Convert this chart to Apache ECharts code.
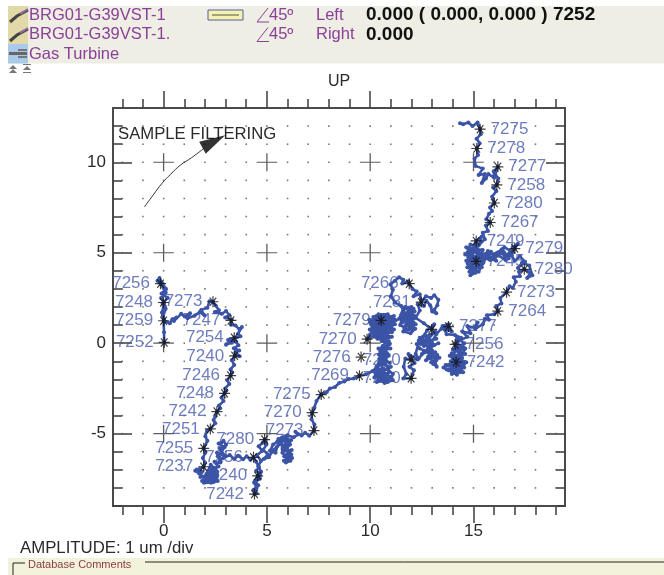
<!DOCTYPE html>
<html>
<head>
<meta charset="utf-8">
<title>Orbit</title>
<style>
  html, body { margin: 0; padding: 0; background: #fff; }
  #chart { width: 664px; height: 575px; }
</style>
<script src="https://cdn.jsdelivr.net/npm/echarts@6/dist/echarts.min.js"></script>
</head>
<body>
<div id="chart"></div>
<script>
const FONT = '"Liberation Sans", Arial, sans-serif'

// orbit trace (um)
const traceStem = [[0.03,0.04],[0.02,0.6],[0,1.24],[-0.08,1.7],[0.03,2.25],[-0.12,2.5],[0.1,2.8],[-0.15,3.29],[-0.3,3.45],[-0.2,3.6],[-0.05,3.3],[0.12,3],[-0.1,2.75],[0.2,2.5],[-0.05,2.2],[0.1,1.9],[-0.02,1.5],[0.08,1.2]]
const traceShoulder = [[0.3,1.1],[0.42,1.32],[0.62,1.42],[0.5,1.22],[0.85,1.62],[1.02,1.48],[1.28,1.66],[1.16,1.38],[1.5,1.52],[1.75,1.72],[1.98,1.54],[1.82,1.84],[2.12,1.96],[2.22,2.32],[2.39,2.29],[2.52,2.08],[2.68,1.82],[2.48,1.72],[2.82,1.62],[3.02,1.78],[3.18,1.56],[2.98,1.42],[3.3,1.3],[3.26,1.02],[3.48,0.98],[3.66,0.78],[3.79,0.89],[3.6,0.52],[3.72,0.38],[3.5,0.3],[3.42,0.3],[3.12,0.18],[3.3,0.02],[3.02,-0.08],[3.28,0.2],[3.52,0.06],[3.62,-0.12],[3.4,-0.28],[3.66,-0.4],[3.48,-0.5],[3.68,-0.72],[3.44,-0.7],[3.3,-0.95],[3.42,-1.2],[3.24,-1.45],[3.32,-1.62],[3.24,-1.79]]
const traceDescent = [[3.08,-2.05],[3.18,-2.25],[2.98,-2.5],[3.04,-2.62],[2.95,-2.77],[2.8,-3],[2.9,-3.2],[2.68,-3.45],[2.74,-3.6],[2.58,-3.78],[2.5,-4.05],[2.42,-4.25],[2.5,-4.42],[2.26,-4.74],[2.1,-4.85],[2.02,-5.15],[2.12,-5.4],[1.94,-5.81],[2.02,-6.05],[1.9,-6.35],[2,-6.6],[1.94,-6.83]]
const traceFootLeft = [[1.75,-6.95],[1.53,-7.05],[1.72,-7.2],[1.6,-6.98],[1.85,-7.12],[1.78,-7.4],[2.05,-7.32],[1.86,-7.62],[2.2,-7.52],[1.95,-7.72],[2.42,-7.68],[2.15,-7.38],[2.55,-7.5],[2.3,-7.72],[2.62,-7.62],[2.4,-7.2],[2.18,-7.05],[2.5,-6.95],[2.28,-6.72],[2.08,-7.22],[2.6,-7.28],[2.36,-7.48],[1.98,-7.5],[2.25,-7.62],[2.58,-7.38],[2.44,-7],[2.05,-7.55],[2.5,-7.45],[2.2,-7.25],[2.6,-7.1],[2.3,-6.9],[2.66,-6.82],[2.55,-6.65],[2.46,-6.55],[2.75,-6.6],[2.7,-6.3],[2.62,-6.25],[2.58,-6.05],[2.85,-6.15],[2.7,-5.8],[2.82,-5.82],[2.95,-5.75],[2.66,-5.55],[2.8,-5.5],[2.9,-5.4],[3.02,-5.62],[2.8,-6],[2.98,-6.22],[2.72,-6.5],[2.9,-6.35]]
const traceFootRun = [[3.2,-6.18],[3.42,-6.4],[3.6,-6.22],[3.85,-6.42],[4.02,-6.25],[4.2,-6.45],[4.35,-6.31],[4.48,-6.55],[4.62,-6.85],[4.48,-7.05],[4.65,-7.2],[4.55,-7.33],[4.42,-7.6],[4.58,-7.85],[4.36,-8.1],[4.5,-8.3],[4.4,-8.34],[4.5,-8],[4.38,-7.7],[4.66,-7.5],[4.72,-7.1],[4.58,-6.8],[4.72,-6.5],[4.52,-6.2],[4.78,-5.95],[4.6,-5.7],[4.8,-5.5],[4.89,-5.33],[4.98,-5.6],[4.82,-5.9],[5.05,-6.15],[4.85,-6.4],[5.1,-6.3],[5.25,-6],[5.42,-6.05],[5.5,-5.7],[5.68,-5.55],[5.55,-5.3]]
const traceHip = [[5.9,-5.15],[5.72,-5.45],[6,-5.3],[5.8,-5.7],[6.12,-5.6],[5.88,-5.95],[6.2,-5.9],[5.98,-6.2],[6.22,-6.35],[5.92,-6.6],[6.14,-6.5],[5.84,-6.25],[6.08,-6],[5.76,-5.85],[6.04,-5.5],[5.7,-5.25],[5.75,-6.05],[6.02,-6.4],[5.82,-6.5],[6.18,-6.15],[5.95,-5.75],[6.18,-5.35],[5.85,-5.3],[5.6,-5.55],[5.4,-5.85],[5.15,-5.95],[5.3,-5.6],[5.5,-5.45],[5.75,-5.2],[6,-5.1],[6.3,-5.2],[6.5,-5.05],[6.38,-4.9],[6.68,-5.1],[6.85,-4.95],[7.05,-5.12],[7.28,-4.83]]
const traceClimb = [[7.3,-4.5],[7.16,-4.2],[7.19,-3.84],[7.3,-3.55],[7.4,-3.2],[7.63,-2.84],[7.9,-2.7],[8.05,-2.5],[8.3,-2.42],[8.5,-2.2],[8.75,-2.12],[8.95,-1.98],[9.2,-1.95],[9.48,-1.8],[9.8,-1.72]]
const traceCentreLow = [[10.1,-1.55],[10.4,-1.25],[10.2,-1.9],[10.6,-1.7],[10.32,-2.15],[10.8,-2],[10.5,-1.45],[10.95,-1.85],[10.7,-2.2],[11.1,-2.05],[10.85,-2.15],[10.55,-1.95],[10.3,-1.3],[10.72,-1.05],[10.45,-0.85],[10.9,-0.7],[10.5,-0.45],[10.98,-0.3],[10.6,-0.15],[10.82,-0.55],[10.42,-0.62],[10.7,-0.25],[10.95,-0.05],[10.55,0.12],[10.78,0.3],[10.25,-1.6],[10.65,-1.4],[10.4,-2],[10.9,-1.6],[10.6,-2.1],[11,-1.9],[11.1,-1.7],[10.85,-1.45],[11,-1.3],[10.35,-1.75],[10.75,-1.85],[10.5,-1.1],[10.85,-1.3],[10.6,-0.95],[10.95,-1.1],[10.5,-0.7],[10.75,-0.8],[10.4,-0.3],[10.85,-0.15],[10.65,-0.45],[10.9,0.1],[10.6,0.25]]
const traceCentreLeft = [[10.3,0.45],[10.85,0.55],[10.2,0.8],[11,0.85],[10.05,1.05],[10.7,1.15],[9.95,1.3],[10.53,1.26],[11.1,1.25],[10.4,0.95],[10.9,0.3],[10.25,1.35],[10.75,1.55],[10.1,0.95],[11.2,1.05],[10.6,0.65],[10,0.5],[9.85,0.22],[10.45,0.5],[11.05,0.6],[10.6,1.4],[11.15,1.5],[10.15,0.65],[10.65,0.4],[10.35,1.1],[10.9,1.05],[10.1,1.25],[10.8,0.75],[10.3,1.5],[10.95,1.4],[10.5,0.85],[10.2,0.55],[10.75,0.95],[11.05,1.15],[10.45,1.3],[10.9,0.6],[10.15,1.15],[10.7,1.35],[9.98,0.75],[10.5,1],[10,1.15],[10.6,1.55],[10.15,1.45],[10.85,1.6],[10.4,1.6],[11,1.45],[11.2,1.3],[10.95,0.95],[11.15,0.75],[10.7,0.45],[11.05,0.35],[10.35,0.25],[10.75,0.15],[10.2,0.35],[10.05,0.7],[10.55,0.55],[10.25,0.95],[10.6,1.1],[11,1],[10.8,1.25],[10.35,1.4],[10.65,0.8],[11.4,1.35]]
const traceColumn = [[11.6,1.9],[12,2],[11.75,1.6],[12.15,1.75],[11.55,1.3],[12.1,1.35],[11.7,0.95],[12.2,1.05],[11.6,0.65],[11.95,0.55],[12.18,0.8],[11.8,1.25],[11.5,1.55],[12.05,1.55],[11.85,0.75],[11.45,1],[11.62,1.75],[11.7,2],[11.95,1.7],[11.6,1.45],[12.1,1.15],[11.75,1.1],[12.05,0.75],[11.65,0.8],[11.9,1.45],[12.15,1.5],[11.55,1.15],[11.85,1.85],[12.1,1.9],[11.7,1.35],[11.95,0.95]]
const traceArc = [[11.5,2.05],[11.2,2.25],[11,2.6],[11.1,2.95],[10.98,3.25],[11.2,3.45],[11.4,3.65],[11.6,3.5],[11.55,3.3],[11.85,3.42],[11.89,3.29],[12.05,3],[12.25,2.85],[12.1,2.6],[12.4,2.7],[12.47,2.27],[12.7,2.6],[12.95,2.5],[13.1,2.65],[13.3,2.4],[13.25,2.1],[13.1,1.85],[13.2,1.65],[13,1.75],[12.9,2.1],[12.72,2.35],[12.6,2.05],[12.3,2.15],[12.4,1.8],[12.2,1.4]]
const traceCentreRight = [[12.6,1.1],[12.98,0.76],[13.1,1.05],[12.75,0.7],[12.55,0.35],[12.9,0.45],[13.15,0.65],[12.7,0.1],[13.2,0.25],[12.45,-0.05],[12.95,-0.2],[13.3,0],[12.6,-0.45],[13.15,-0.5],[12.8,-0.75],[13.35,-0.8],[12.95,-1.05],[13.22,-1.3],[13.05,-0.6],[12.4,-0.3],[12.25,-0.05],[12.55,0.05],[12.35,0.15],[12.85,0.2],[12.6,-0.15],[13.1,-0.1],[12.5,-0.6],[13,-0.4],[12.7,-0.95],[13.25,-0.65],[13.05,-1.15],[12.85,-0.55],[13.2,-0.95],[12.65,0.45],[13,0],[12.4,0.3],[12.2,-0.6],[12.35,-0.85],[12,-0.75],[11.98,-0.92],[11.7,-0.85],[11.62,-1.3],[11.75,-1.7],[11.6,-1.95],[11.98,-1.94],[12.12,-1.5],[11.9,-1.3],[12.15,-1.1],[11.85,-0.6],[12.3,-0.9],[12.8,-0.3],[13.2,0.5],[13.45,0.8],[13.79,0.92],[13.6,0.75],[13.95,0.65],[13.79,1.05],[13.5,0.95],[13.7,0.5]]
const traceBlobRight = [[14.1,0.45],[14.4,0.3],[14.11,-0.07],[14.5,-0.2],[14,-0.35],[14.6,-0.6],[14.1,-0.75],[14.65,-1.05],[13.9,-1],[14.4,-1.3],[13.65,-1.2],[14.16,-1.05],[14.5,-1.6],[13.8,-1.5],[14.2,-1.75],[13.55,-1.35],[14.35,-0.9],[13.85,-0.7],[14.55,-1.35],[14.05,-1.55],[14.6,-0.3],[14.3,-0.4],[13.95,-0.55],[14.45,-0.8],[13.8,-1.25],[14.2,-1.4],[13.7,-1.45],[14.35,-1.6],[13.95,-1.7],[14.55,-1.15],[14,-1.2],[14.4,-0.55],[14.15,-0.3],[14.55,0],[14.2,0.3],[14,-0.9],[14.3,-1.15],[14.25,0.1],[14.7,0.35],[14.45,0.65]]
const traceNorthEast = [[14.85,0.55],[14.7,0.95],[15.05,0.85],[15.2,1.15],[15.1,0.8],[15.45,1.05],[15.55,1.35],[15.75,1.3],[15.65,1.55],[16,1.6],[16.18,1.77],[16.1,2.05],[16.35,2.2],[16.3,2.5],[16.6,2.82],[16.75,3.15],[16.9,3.05],[17.05,3.4],[16.95,3.65],[17.25,3.7],[17.2,3.95],[17.46,4.08],[17.75,3.9],[17.6,3.6],[17.85,3.75],[17.7,4.3],[17.35,4.45],[17.15,4.15],[17.5,4.5],[17.25,4.8],[17,4.55],[16.85,4.85],[17,5.23],[17.15,5.5],[16.9,5.3],[16.7,4.7],[16.4,5.2],[16.55,4.6],[16.2,4.85],[16.35,5.15],[15.95,4.9],[16.1,4.55],[15.7,4.7],[15.85,5.05],[15.5,4.55],[15.7,5.1],[15.6,4.95],[16,4.65],[16.3,5],[16.6,4.85],[16.8,5.1],[16.5,5.3],[16.15,5],[15.8,4.6],[15.45,4.75],[15.3,4.9]]
const traceBlobTop = [[15.13,4.52],[14.8,4.6],[15.4,4.2],[14.7,4.2],[15.1,3.9],[14.85,3.75],[15.3,4.6],[14.6,4.9],[15,5.1],[14.65,5.3],[15.25,5.05],[14.9,4.35],[15.5,4.9],[14.75,4.75],[15.15,5.35],[14.85,5.45],[14.7,5],[15.2,4.2],[14.8,3.95],[15.35,4.4],[14.65,4.55],[15.05,4.75],[14.75,5.2],[15.35,4.85],[14.95,5.25],[15.45,5.15],[15,4.05],[14.72,4.4],[15.25,3.95],[15.48,4.45],[15.1,5.5],[15.13,5.65]]
const traceTail = [[15.4,5.9],[15.25,5.4],[15.55,5.75],[15.45,6.1],[15.7,6.2],[15.6,6.5],[15.81,6.67],[15.62,6.85],[15.75,7.15],[15.9,7.3],[15.8,7.5],[16.01,7.75],[15.9,8.1],[16.1,8.4],[15.95,8.6],[16.13,8.75],[16.2,9.1],[16.05,9.35],[16.18,9.75],[15.98,9.5],[16,9.15],[15.72,9.35],[15.6,9.1],[15.4,8.85],[15.55,9.35],[15.25,9.3],[15.45,9.65],[15.1,9.8],[15.05,10.2],[15.22,10.4],[15.16,10.76],[15.3,11.05],[15.15,11.3],[15.35,11.55],[15.32,11.83],[15.2,12.2],[14.95,12],[14.75,12.2],[14.5,12.1],[14.35,12.16]]

// once-per-turn markers and the number printed next to each
const keyX = [0.03,-0.15,-0.01,0,2.39,3.26,3.42,3.44,3.24,2.95,2.58,2.26,1.94,1.94,4.4,4.55,4.35,4.89,7.28,7.19,7.63,9.48,9.56,9.85,10.53,12.47,11.89,12.98,13.79,11.98,11.98,14.11,14.16,16.18,16.6,17.46,17,15.13,15.13,15.81,16.01,16.13,16.18,15.16,15.32]
const keyY = [0.04,3.29,2.25,1.24,2.29,1.26,0.3,-0.7,-1.79,-2.77,-3.78,-4.74,-5.81,-6.83,-8.34,-7.33,-6.31,-5.33,-4.83,-3.84,-2.84,-1.8,-0.77,0.22,1.26,2.27,3.29,0.76,0.92,-0.92,-1.94,-0.07,-1.05,1.77,2.82,4.08,5.23,5.65,4.52,6.67,7.75,8.75,9.75,10.76,11.83]
const keyLabels = ['7252','7256','7248','7259','7273','7247','7254','7240','7246','7248','7242','7251','7255','7237','7242','7240','7256','7280','7273','7270','7275','7269','7276','7270','7279','7281','7266','','7277','7270','7240','7256','7242','7264','7273','7280','7279','7249','7245','7267','7280','7258','7277','7278','7275']
const keyLabelSides = ['left','left','left','left','left','left','left','left','left','left','left','left','left','left','left','left','left','left','left','left','left','left','left','left','left','left','left','left','right','left','left','right','right','right','right','right','right','right','right','right','right','right','right','right','right']

const arrowX = [-0.93,-0.5,-0.08,0.35,0.81,1.35,1.94]
const arrowY = [7.53,8.2,8.83,9.35,9.84,10.25,10.76]
const arrowHead = [2.43,11.15]

const xMinorTicks = [-2,-1,0,1,2,3,4,5,6,7,8,9,10,11,12,13,14,15,16,17,18,19]
const yMinorTicks = [-9,-8,-7,-6,-5,-4,-3,-2,-1,0,1,2,3,4,5,6,7,8,9,10,11,12]
const xMajorTicks = [0,5,10,15]
const yMajorTicks = [-5,0,5,10]

const trace = [].concat(traceStem, traceShoulder, traceDescent, traceFootLeft, traceFootRun, traceHip,
  traceClimb, traceCentreLow, traceCentreLeft, traceColumn, traceArc, traceCentreRight, traceBlobRight,
  traceNorthEast, traceBlobTop, traceTail)

const gridDots = []
xMinorTicks.forEach((x) => yMinorTicks.forEach((y) => {
  if (!(xMajorTicks.includes(x) && yMajorTicks.includes(y))) gridDots.push([x, y])
}))
const gridCrosses = []
xMajorTicks.forEach((x) => yMajorTicks.forEach((y) => gridCrosses.push([x, y])))

const X_RANGE = { min: -2.45, max: 19.43 }
const Y_RANGE = { min: -9, max: 13 }
const AXIS_COLOR = '#3c3c3c'
const TEXT_COLOR = '#2a2a2a'
const PURPLE = '#8b3f97'
const TRACE_COLOR = '#3b54a6'
const labelStyle = { show: true, fontFamily: FONT, fontSize: 17, color: TEXT_COLOR }

const buildXAxis = (position, ticks, length, withLabels) => ({
  type: 'value',
  position,
  ...X_RANGE,
  axisLine: { show: false, onZero: false },
  splitLine: { show: false },
  axisTick: { show: true, length, customValues: ticks, lineStyle: { color: AXIS_COLOR, width: 1.5 } },
  axisLabel: withLabels ? { ...labelStyle, margin: 17, customValues: ticks } : { show: false },
})

const buildYAxis = (position, ticks, length, withLabels) => ({
  type: 'value',
  position,
  ...Y_RANGE,
  axisLine: { show: false, onZero: false },
  splitLine: { show: false },
  axisTick: { show: true, inside: true, length, customValues: ticks, lineStyle: { color: AXIS_COLOR, width: 1.5 } },
  axisLabel: withLabels ? { ...labelStyle, margin: 7, customValues: ticks } : { show: false },
})

const headerText = (text, x, y, color, extra) => ({
  type: 'text',
  x,
  y,
  style: { text, fill: color, font: '16.5px ' + FONT, textVerticalAlign: 'middle', ...extra },
})

const probeIcon = (y) => ({
  type: 'group',
  children: [
    { type: 'polyline', shape: { points: [[10, y + 13], [17, y + 7], [28, y + 1]] }, style: { stroke: '#444', lineWidth: 3, fill: 'none' } },
    { type: 'polyline', shape: { points: [[20, y + 5], [28, y]] }, style: { stroke: '#9a6ab0', lineWidth: 2, fill: 'none' } },
  ],
})

const angleIcon = (y) => ({
  type: 'polyline',
  shape: { points: [[268, y - 7], [257, y + 7], [269, y + 7]] },
  style: { stroke: PURPLE, lineWidth: 1, fill: 'none' },
})

const graphic = [
  { type: 'rect', shape: { x: 8, y: 6, width: 656, height: 57.5 }, style: { fill: '#eeeee5' } },
  { type: 'rect', shape: { x: 8, y: 6, width: 20, height: 38 }, style: { fill: '#e2d9a9' } },
  { type: 'rect', shape: { x: 8, y: 44, width: 20, height: 19.5 }, style: { fill: '#a9cbe9' } },
  probeIcon(9),
  probeIcon(28),
  { type: 'rect', shape: { x: 9, y: 52, width: 18, height: 3 }, style: { fill: '#666' } },
  { type: 'rect', shape: { x: 18, y: 49, width: 9, height: 2 }, style: { fill: '#777' } },
  { type: 'rect', shape: { x: 18, y: 56, width: 9, height: 2 }, style: { fill: '#777' } },
  headerText('BRG01-G39VST-1', 29, 15, PURPLE),
  headerText('BRG01-G39VST-1.', 29, 34.5, PURPLE),
  headerText('Gas Turbine', 29, 54, PURPLE),
  { type: 'rect', shape: { x: 208, y: 10, width: 35, height: 10 }, style: { fill: '#f6f1ac', stroke: '#4a62a8', lineWidth: 1 } },
  { type: 'line', shape: { x1: 212, y1: 15, x2: 239, y2: 15 }, style: { stroke: '#555', lineWidth: 1 } },
  angleIcon(15),
  angleIcon(34.5),
  headerText('45\u00ba', 269, 15, PURPLE),
  headerText('45\u00ba', 269, 34.5, PURPLE),
  headerText('Left', 316, 15, PURPLE),
  headerText('Right', 316, 34.5, PURPLE),
  headerText('0.000 ( 0.000, 0.000 ) 7252', 366, 15, '#111', { font: 'bold 19px ' + FONT }),
  headerText('0.000', 366, 34.5, '#111', { font: 'bold 19px ' + FONT }),
  { type: 'polygon', shape: { points: [[13, 65], [17, 69], [9, 69]] }, style: { fill: '#777' } },
  { type: 'polygon', shape: { points: [[13, 69], [17, 73], [9, 73]] }, style: { fill: '#777' } },
  { type: 'polygon', shape: { points: [[27, 66], [31, 70], [23, 70]] }, style: { fill: '#777' } },
  { type: 'rect', shape: { x: 23, y: 64, width: 8, height: 1 }, style: { fill: '#777' } },
  { type: 'rect', shape: { x: 23, y: 72, width: 8, height: 1 }, style: { fill: '#777' } },
  { type: 'text', x: 339, y: 82, style: { text: 'UP', fill: TEXT_COLOR, font: '16px ' + FONT, textAlign: 'center', textVerticalAlign: 'middle' } },
  { type: 'text', x: 118, y: 134, style: { text: 'SAMPLE FILTERING', fill: TEXT_COLOR, font: '16.7px ' + FONT, textVerticalAlign: 'middle' } },
  { type: 'text', x: 20, y: 548, style: { text: 'AMPLITUDE: 1 um /div', fill: TEXT_COLOR, font: '16.8px ' + FONT, textVerticalAlign: 'middle' } },
  { type: 'rect', shape: { x: 8, y: 558, width: 656, height: 17 }, style: { fill: '#f3f3dc' } },
  { type: 'polyline', shape: { points: [[13, 575], [13, 563], [25, 563]] }, style: { stroke: '#222', lineWidth: 1, fill: 'none' } },
  { type: 'line', shape: { x1: 145, y1: 562, x2: 664, y2: 562 }, style: { stroke: '#222', lineWidth: 1 } },
  { type: 'text', x: 28, y: 565, style: { text: 'Database Comments', fill: '#8c3a48', font: '11px ' + FONT, textVerticalAlign: 'middle' } },
]

const chart = echarts.init(document.getElementById('chart'), null, { renderer: 'canvas' })

chart.setOption({
  animation: false,
  backgroundColor: '#fff',
  graphic,
  grid: {
    left: 113,
    top: 108,
    width: 452,
    height: 398,
    show: true,
    backgroundColor: 'transparent',
    borderColor: '#4a4a4a',
    borderWidth: 2,
    outerBoundsMode: 'none',
  },
  xAxis: [
    buildXAxis('bottom', xMajorTicks, 17, true),
    buildXAxis('bottom', xMinorTicks, 9, false),
    buildXAxis('top', xMajorTicks, 17, false),
    buildXAxis('top', xMinorTicks, 9, false),
  ],
  yAxis: [
    buildYAxis('left', yMajorTicks, 19, true),
    buildYAxis('left', yMinorTicks, 9, false),
    buildYAxis('right', yMajorTicks, 19, false),
    buildYAxis('right', yMinorTicks, 9, false),
  ],
  series: [
    {
      name: 'Grid dots',
      type: 'scatter',
      z: 1,
      silent: true,
      symbol: 'rect',
      symbolSize: 1.6,
      itemStyle: { color: '#555' },
      data: gridDots,
    },
    {
      name: 'Grid crosses',
      type: 'scatter',
      z: 1,
      silent: true,
      symbol: 'path://M0 50H100M50 0V100',
      symbolSize: [20.6, 18],
      itemStyle: { color: 'none', borderColor: '#333', borderWidth: 1.2 },
      data: gridCrosses,
    },
    {
      name: 'Marker labels',
      type: 'scatter',
      z: 2,
      silent: true,
      symbolSize: 1,
      itemStyle: { color: 'transparent' },
      data: keyX.map((x, i) => ({
        value: [x, keyY[i]],
        label: {
          show: true,
          formatter: keyLabels[i],
          position: keyLabelSides[i],
          distance: 10,
          fontFamily: FONT,
          fontSize: 17,
          color: '#4a5cad',
        },
      })),
    },
    {
      name: 'Orbit',
      type: 'line',
      z: 3,
      silent: true,
      showSymbol: true,
      showAllSymbol: true,
      symbol: 'circle',
      symbolSize: 4,
      clip: false,
      itemStyle: { color: TRACE_COLOR, borderWidth: 0 },
      lineStyle: { color: TRACE_COLOR, width: 2.6 },
      data: trace,
    },
    {
      name: 'Markers',
      type: 'scatter',
      z: 4,
      silent: true,
      symbol: 'path://M0 50H100M50 10V90M20 20L80 80M20 80L80 20',
      symbolSize: 11,
      itemStyle: { color: 'none', borderColor: '#111', borderWidth: 1.2 },
      data: keyX.map((x, i) => [x, keyY[i]]),
    },
    {
      name: 'Rotation arrow',
      type: 'line',
      z: 4,
      silent: true,
      symbol: 'none',
      smooth: 0.5,
      lineStyle: { color: '#333', width: 1 },
      data: arrowX.map((x, i) => [x, arrowY[i]]),
    },
    {
      name: 'Arrow head',
      type: 'scatter',
      z: 4,
      silent: true,
      symbol: 'triangle',
      symbolSize: [13.5, 26],
      symbolRotate: -61,
      itemStyle: { color: '#000' },
      data: [arrowHead],
    },
  ],
})

window.addEventListener('resize', () => chart.resize())
</script>
</body>
</html>
